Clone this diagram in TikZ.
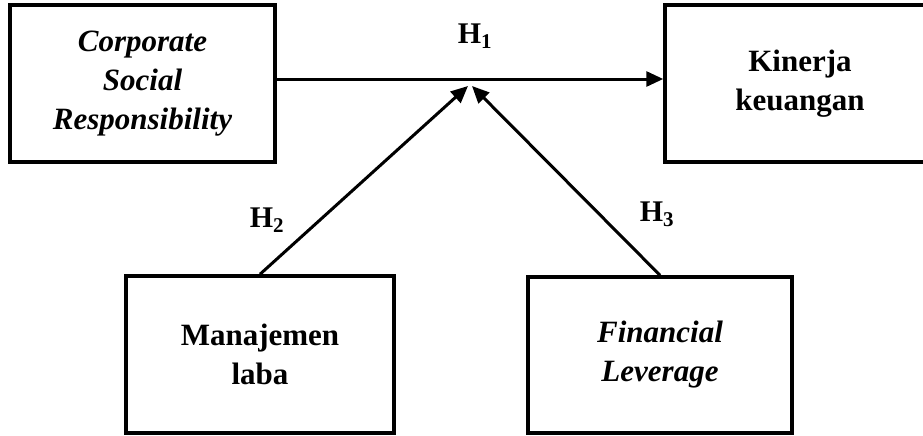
\documentclass[tikz,border=0pt]{standalone}
\usepackage{fontspec}
\setmainfont{Liberation Serif}
\usetikzlibrary{arrows.meta}
\tikzset{
  box/.style={draw=black, line width=3.5pt, fill=white, inner sep=0pt, align=center,
    font=\fontsize{31}{39}\selectfont\bfseries},
  ibox/.style={box, font=\fontsize{31}{39}\selectfont\bfseries\itshape},
  conn/.style={line width=3pt, -{Triangle[length=17pt,width=15pt]}},
  hlabel/.style={inner sep=0pt, font=\fontsize{30}{36}\selectfont\bfseries}
}
\begin{document}
\begin{tikzpicture}[x=1pt,y=-1pt]
\useasboundingbox (0,0) rectangle (923,436);
\node[ibox, minimum width=265pt, minimum height=157pt] (csr) at (142.5,83.5)
  {Corporate\\Social\\Responsibility};
\node[box, minimum width=270pt, minimum height=157pt] (kin) at (800,83.5)
  {Kinerja\\keuangan};
\node[box, minimum width=268pt, minimum height=157pt] (mj) at (260,354.5)
  {Manajemen\\laba};
\node[ibox, minimum width=264pt, minimum height=156pt] (fl) at (660,355)
  {Financial\\Leverage};
\coordinate (tipL) at (468,86);
\coordinate (tipR) at (472,86);
\draw[conn] ([yshift=4.5pt]csr.east) -- ([yshift=4.5pt]kin.west);
\draw[conn] (mj.north) -- (tipL);
\draw[conn] (fl.north) -- (tipR);
\node[hlabel] (h1) at (475,36) {H\textsubscript{1}};
\node[hlabel] (h2) at (267,220) {H\textsubscript{2}};
\node[hlabel] (h3) at (657,214) {H\textsubscript{3}};
\end{tikzpicture}
\end{document}
